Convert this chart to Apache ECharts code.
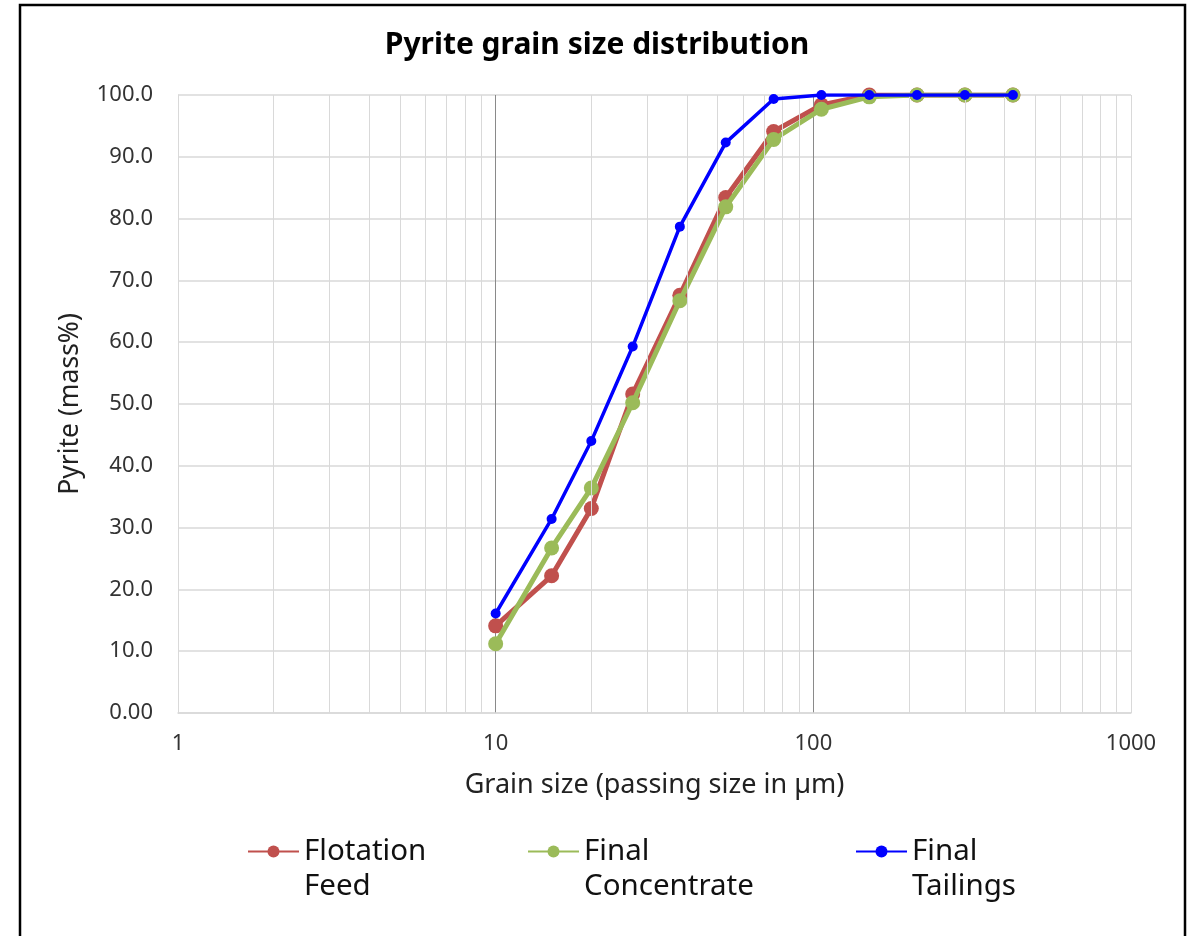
<!DOCTYPE html>
<html>
<head>
<meta charset="utf-8">
<title>Pyrite grain size distribution</title>
<script src="https://cdn.jsdelivr.net/npm/echarts@6/dist/echarts.min.js"></script>
<style>
  html, body { margin: 0; padding: 0; background: #fff; }
  #chart { width: 1194px; height: 936px; }
</style>
</head>
<body>
<div id="chart"></div>
<script>
// Sieve sizes (µm) and cumulative pyrite passing (mass%)
const grainSizes = [10, 15, 20, 27, 38, 53, 75, 106, 150, 212, 300, 425];
const flotationFeed = [14.1, 22.2, 33.1, 51.6, 67.6, 83.4, 94.1, 98.4, 100.0, 100.0, 100.0, 100.0];
const finalConcentrate = [11.2, 26.7, 36.4, 50.2, 66.7, 81.9, 92.8, 97.7, 99.7, 100.0, 100.0, 100.0];
const finalTailings = [16.1, 31.4, 44.0, 59.3, 78.7, 92.3, 99.35, 100.0, 100.0, 100.0, 100.0, 100.0];
const xTickLabels = ['1', '10', '100', '1000'];

const FONT = '"Noto Sans", "Open Sans", sans-serif';

function pairs(ys) {
  return grainSizes.map((x, i) => [x, ys[i]]);
}

// Minor vertical gridlines at 2..9 of each decade
const minorGrid = [];
[1, 10, 100].forEach(d => {
  for (let k = 2; k <= 9; k++) minorGrid.push({ xAxis: k * d });
});

// Legend labels wrap onto two lines; the leading blank line keeps the
// first word level with the legend marker.
const legendWrap = {
  'Flotation Feed': '\nFlotation\nFeed',
  'Final Concentrate': '\nFinal\nConcentrate',
  'Final Tailings': '\nFinal\nTailings'
};

function legendAt(name, left) {
  return {
    data: [name],
    left: left,
    top: 799,
    padding: 0,
    itemWidth: 51,
    itemHeight: 15,
    selectedMode: false,
    formatter: n => legendWrap[n],
    textStyle: {
      fontFamily: FONT,
      fontSize: 29.5,
      lineHeight: 35,
      color: '#111'
    }
  };
}

const chart = echarts.init(document.getElementById('chart'));
chart.setOption({
  animation: false,
  backgroundColor: '#ffffff',
  graphic: [{
    type: 'rect',
    shape: { x: 20, y: 5, width: 1165, height: 980 },
    style: { fill: 'none', stroke: '#000', lineWidth: 2.5 },
    silent: true
  }],
  title: {
    text: 'Pyrite grain size distribution',
    left: 'center',
    top: 25,
    textStyle: { fontFamily: FONT, fontSize: 30, fontWeight: 'bold', color: '#000' }
  },
  legend: [
    legendAt('Flotation Feed', 247),
    legendAt('Final Concentrate', 527),
    legendAt('Final Tailings', 855)
  ],
  grid: { left: 178, right: 63, top: 95, bottom: 223, containLabel: false },
  xAxis: {
    type: 'log',
    logBase: 10,
    min: 1,
    max: 1000,
    name: 'Grain size (passing size in µm)',
    nameLocation: 'middle',
    nameGap: 59,
    nameTextStyle: { fontFamily: FONT, fontSize: 27, color: '#222' },
    axisLine: { show: true, lineStyle: { color: '#d9d9d9', width: 1.5 } },
    axisTick: { show: false },
    axisLabel: {
      fontFamily: FONT, fontSize: 22, color: '#333', margin: 20,
      formatter: v => xTickLabels[Math.round(Math.log10(v))]
    },
    splitLine: { show: true, lineStyle: { color: ['#d9d9d9', '#8a8a8a', '#8a8a8a', '#d9d9d9'], width: 1 } }
  },
  yAxis: {
    type: 'value',
    min: 0,
    max: 100,
    interval: 10,
    name: 'Pyrite (mass%)',
    nameLocation: 'middle',
    nameGap: 94,
    nameRotate: 90,
    nameTextStyle: { fontFamily: FONT, fontSize: 26.5, color: '#222' },
    axisLine: { show: true, lineStyle: { color: '#d9d9d9', width: 1 } },
    axisTick: { show: false },
    axisLabel: {
      fontFamily: FONT, fontSize: 22, color: '#333', margin: 25,
      formatter: v => v === 0 ? '0.00' : v.toFixed(1)
    },
    splitLine: { show: true, lineStyle: { color: '#d9d9d9', width: 1.5 } }
  },
  series: [
    {
      name: 'minor-grid',
      type: 'line',
      data: [],
      z: 1,
      silent: true,
      markLine: {
        silent: true,
        symbol: 'none',
        animation: false,
        label: { show: false },
        lineStyle: { color: '#d9d9d9', width: 1, type: 'solid' },
        emphasis: { disabled: true },
        data: minorGrid
      }
    },
    {
      name: 'Flotation Feed',
      type: 'line',
      z: 3,
      data: pairs(flotationFeed),
      symbol: 'circle',
      symbolSize: 15,
      color: '#C0504D',
      lineStyle: { width: 5, color: '#C0504D' },
      itemStyle: { color: '#C0504D' }
    },
    {
      name: 'Final Concentrate',
      type: 'line',
      z: 4,
      data: pairs(finalConcentrate),
      symbol: 'circle',
      symbolSize: 15,
      color: '#9BBB59',
      lineStyle: { width: 5, color: '#9BBB59' },
      itemStyle: { color: '#9BBB59' }
    },
    {
      name: 'Final Tailings',
      type: 'line',
      z: 5,
      data: pairs(finalTailings),
      symbol: 'circle',
      symbolSize: 10,
      color: '#0000FF',
      lineStyle: { width: 3.5, color: '#0000FF' },
      itemStyle: { color: '#0000FF' }
    }
  ]
});
</script>
</body>
</html>
